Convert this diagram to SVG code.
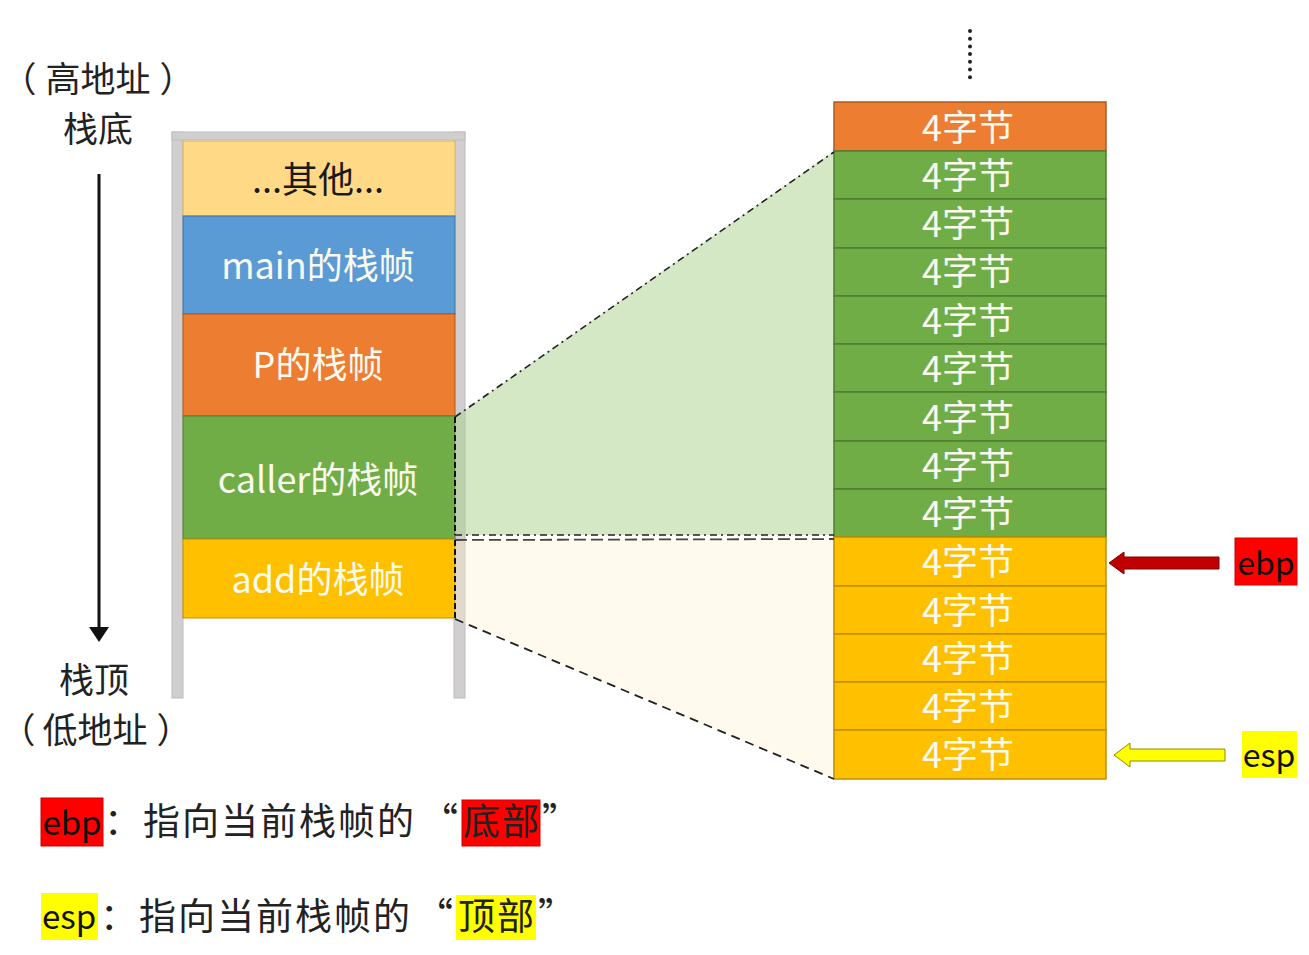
<svg xmlns="http://www.w3.org/2000/svg" width="1309" height="955" viewBox="0 0 1309 955">
<style>
.cj{font-family:"Noto Sans CJK SC","Noto Sans",sans-serif;}
.lbl{font-size:35px;fill:#222;text-anchor:middle;}
.blk{font-size:36px;fill:#FAFAEF;text-anchor:middle;}
.cell{font-size:36px;fill:#FAFAEF;text-anchor:middle;}
.bar{fill:#D0CECE;stroke:#BDBDBD;stroke-width:1;}
.g{fill:#70AD47;stroke:#507E32;stroke-width:1.5;}
.y{fill:#FFC000;stroke:#BF9000;stroke-width:1.5;}
.o{fill:#ED7D31;stroke:#AE5A21;stroke-width:1.5;}
.reg{font-size:32px;fill:#111;text-anchor:middle;}
.bt{font-size:37px;fill:#222;}
.dd{fill:none;stroke:#222;stroke-width:1.6;stroke-dasharray:7 4 2 4;}
.ds{fill:none;stroke:#222;stroke-width:1.8;stroke-dasharray:9 6;}
</style>
<rect width="1309" height="955" fill="#FFFFFF"/>

<g id="labels-left" class="cj">
<text class="lbl" x="19" y="92">（</text>
<text class="lbl" x="98" y="92">高地址</text>
<text class="lbl" x="177" y="92">）</text>
<text class="lbl" x="98" y="142">栈底</text>
<text class="lbl" x="94" y="693">栈顶</text>
<text class="lbl" x="18" y="743">（</text>
<text class="lbl" x="95" y="743">低地址</text>
<text class="lbl" x="174" y="743">）</text>
</g>

<g id="stack-frame">
<rect class="bar" x="172" y="132" width="11" height="566"/>
<rect class="bar" x="454" y="132" width="11" height="566"/>
<rect class="bar" x="172" y="132" width="293" height="8"/>
</g>

<g id="block-other"><rect x="183" y="141" width="272" height="75" fill="#FFD986" stroke="#D9B25E" stroke-width="1"/><text class="cj blk" x="318" y="193" style="fill:#1a1a1a">...其他...</text></g>
<g id="block-main"><rect x="183" y="216" width="272" height="98" fill="#5B9BD5" stroke="#41719C" stroke-width="1"/><text class="cj blk" x="318" y="279">main的栈帧</text></g>
<g id="block-p"><rect x="183" y="314" width="272" height="102" fill="#ED7D31" stroke="#AE5A21" stroke-width="1"/><text class="cj blk" x="318" y="378">P的栈帧</text></g>
<g id="block-caller"><rect x="183" y="416" width="272" height="123" fill="#70AD47" stroke="#507E32" stroke-width="1"/><text class="cj blk" x="318" y="493">caller的栈帧</text></g>
<g id="block-add"><rect x="183" y="539" width="272" height="79" fill="#FFC000" stroke="#BF9000" stroke-width="1"/><text class="cj blk" x="318" y="593">add的栈帧</text></g>

<g id="zoom-regions">
<polygon points="455,417 834,151 834,535 455,535" fill="#A9D18E" fill-opacity="0.5"/>
<polygon points="455,540 834,539 834,779 455,619" fill="#FFF2CC" fill-opacity="0.35"/>
</g>

<g id="dots" fill="#222">
<circle cx="970" cy="31" r="2"/><circle cx="970" cy="38.7" r="2"/><circle cx="970" cy="46.4" r="2"/><circle cx="970" cy="54.1" r="2"/><circle cx="970" cy="61.8" r="2"/><circle cx="970" cy="69.5" r="2"/><circle cx="970" cy="77.2" r="2"/>
</g>

<g id="cells" class="cj">
<g id="cell-0"><rect class="o" x="834" y="102" width="272" height="49"/><text class="cell" x="968" y="141">4字节</text></g>
<g id="cell-1"><rect class="g" x="834" y="151" width="272" height="48"/><text class="cell" x="968" y="189">4字节</text></g>
<g id="cell-2"><rect class="g" x="834" y="199" width="272" height="49"/><text class="cell" x="968" y="237">4字节</text></g>
<g id="cell-3"><rect class="g" x="834" y="248" width="272" height="48"/><text class="cell" x="968" y="285">4字节</text></g>
<g id="cell-4"><rect class="g" x="834" y="296" width="272" height="48"/><text class="cell" x="968" y="334">4字节</text></g>
<g id="cell-5"><rect class="g" x="834" y="344" width="272" height="48"/><text class="cell" x="968" y="382">4字节</text></g>
<g id="cell-6"><rect class="g" x="834" y="392" width="272" height="49"/><text class="cell" x="968" y="431">4字节</text></g>
<g id="cell-7"><rect class="g" x="834" y="441" width="272" height="48"/><text class="cell" x="968" y="479">4字节</text></g>
<g id="cell-8"><rect class="g" x="834" y="489" width="272" height="48"/><text class="cell" x="968" y="527">4字节</text></g>
<g id="cell-9"><rect class="y" x="834" y="537" width="272" height="49"/><text class="cell" x="968" y="575">4字节</text></g>
<g id="cell-10"><rect class="y" x="834" y="586" width="272" height="48"/><text class="cell" x="968" y="624">4字节</text></g>
<g id="cell-11"><rect class="y" x="834" y="634" width="272" height="48"/><text class="cell" x="968" y="672">4字节</text></g>
<g id="cell-12"><rect class="y" x="834" y="682" width="272" height="48"/><text class="cell" x="968" y="720">4字节</text></g>
<g id="cell-13"><rect class="y" x="834" y="730" width="272" height="49"/><text class="cell" x="968" y="768">4字节</text></g>
</g>

<g id="connectors">
<line class="dd" x1="455" y1="417" x2="834" y2="152"/>
<line class="dd" x1="455" y1="535" x2="834" y2="535"/>
<line x1="455" y1="417" x2="455" y2="535" fill="none" stroke="#111" stroke-width="2" stroke-dasharray="6 3"/>
<line x1="455" y1="540" x2="834" y2="539" fill="none" stroke="#444" stroke-width="1.8" stroke-dasharray="12 5"/>
<line class="ds" x1="455" y1="619" x2="834" y2="779"/>
<line x1="455" y1="540" x2="455" y2="619" fill="none" stroke="#111" stroke-width="2" stroke-dasharray="6 3"/>
<line x1="99" y1="174" x2="99" y2="628" stroke="#111" stroke-width="3"/>
<path d="M89,627 L109,627 L99,642 Z" fill="#111"/>
<path d="M1109,563 L1124,552 L1124,557 L1219,557 L1219,569 L1124,569 L1124,574 Z" fill="#C00000" stroke="#7F0000" stroke-width="1"/>
<path d="M1114,755 L1130,743 L1130,749 L1225,749 L1225,761 L1130,761 L1130,767 Z" fill="#FFFF00" stroke="#8C8C00" stroke-width="1"/>
</g>

<g id="reg-ebp"><rect x="1235" y="538" width="62" height="47" fill="#FF0000" stroke="#D00000" stroke-width="1"/><text class="cj reg" x="1266" y="575">ebp</text></g>
<g id="reg-esp"><rect x="1242" y="731" width="55" height="47" fill="#FFFF00"/><text class="cj reg" x="1269" y="767">esp</text></g>

<g id="legend-ebp" class="cj">
<rect x="41" y="798" width="62" height="48" fill="#FF0000" stroke="#D00000" stroke-width="1"/>
<rect x="462" y="800" width="78" height="46" fill="#FF0000" stroke="#D00000" stroke-width="1"/>
<text class="reg" x="72" y="835" style="font-size:33px">ebp</text>
<text class="bt" x="104" y="835">：</text>
<text class="bt" x="143" y="835" letter-spacing="2">指向当前栈帧的</text>
<text class="bt" x="458" y="835" text-anchor="end">“</text>
<text class="bt" x="463" y="835" letter-spacing="2">底部</text>
<text class="bt" x="542" y="835">”</text>
</g>
<g id="legend-esp" class="cj">
<rect x="41" y="893" width="57" height="47" fill="#FFFF00"/>
<rect x="456" y="895" width="80" height="45" fill="#FFFF00"/>
<text class="reg" x="69" y="929" style="font-size:33px">esp</text>
<text class="bt" x="100" y="930">：</text>
<text class="bt" x="139" y="930" letter-spacing="2">指向当前栈帧的</text>
<text class="bt" x="453" y="930" text-anchor="end">“</text>
<text class="bt" x="458" y="930" letter-spacing="2">顶部</text>
<text class="bt" x="538" y="930">”</text>
</g>
</svg>
